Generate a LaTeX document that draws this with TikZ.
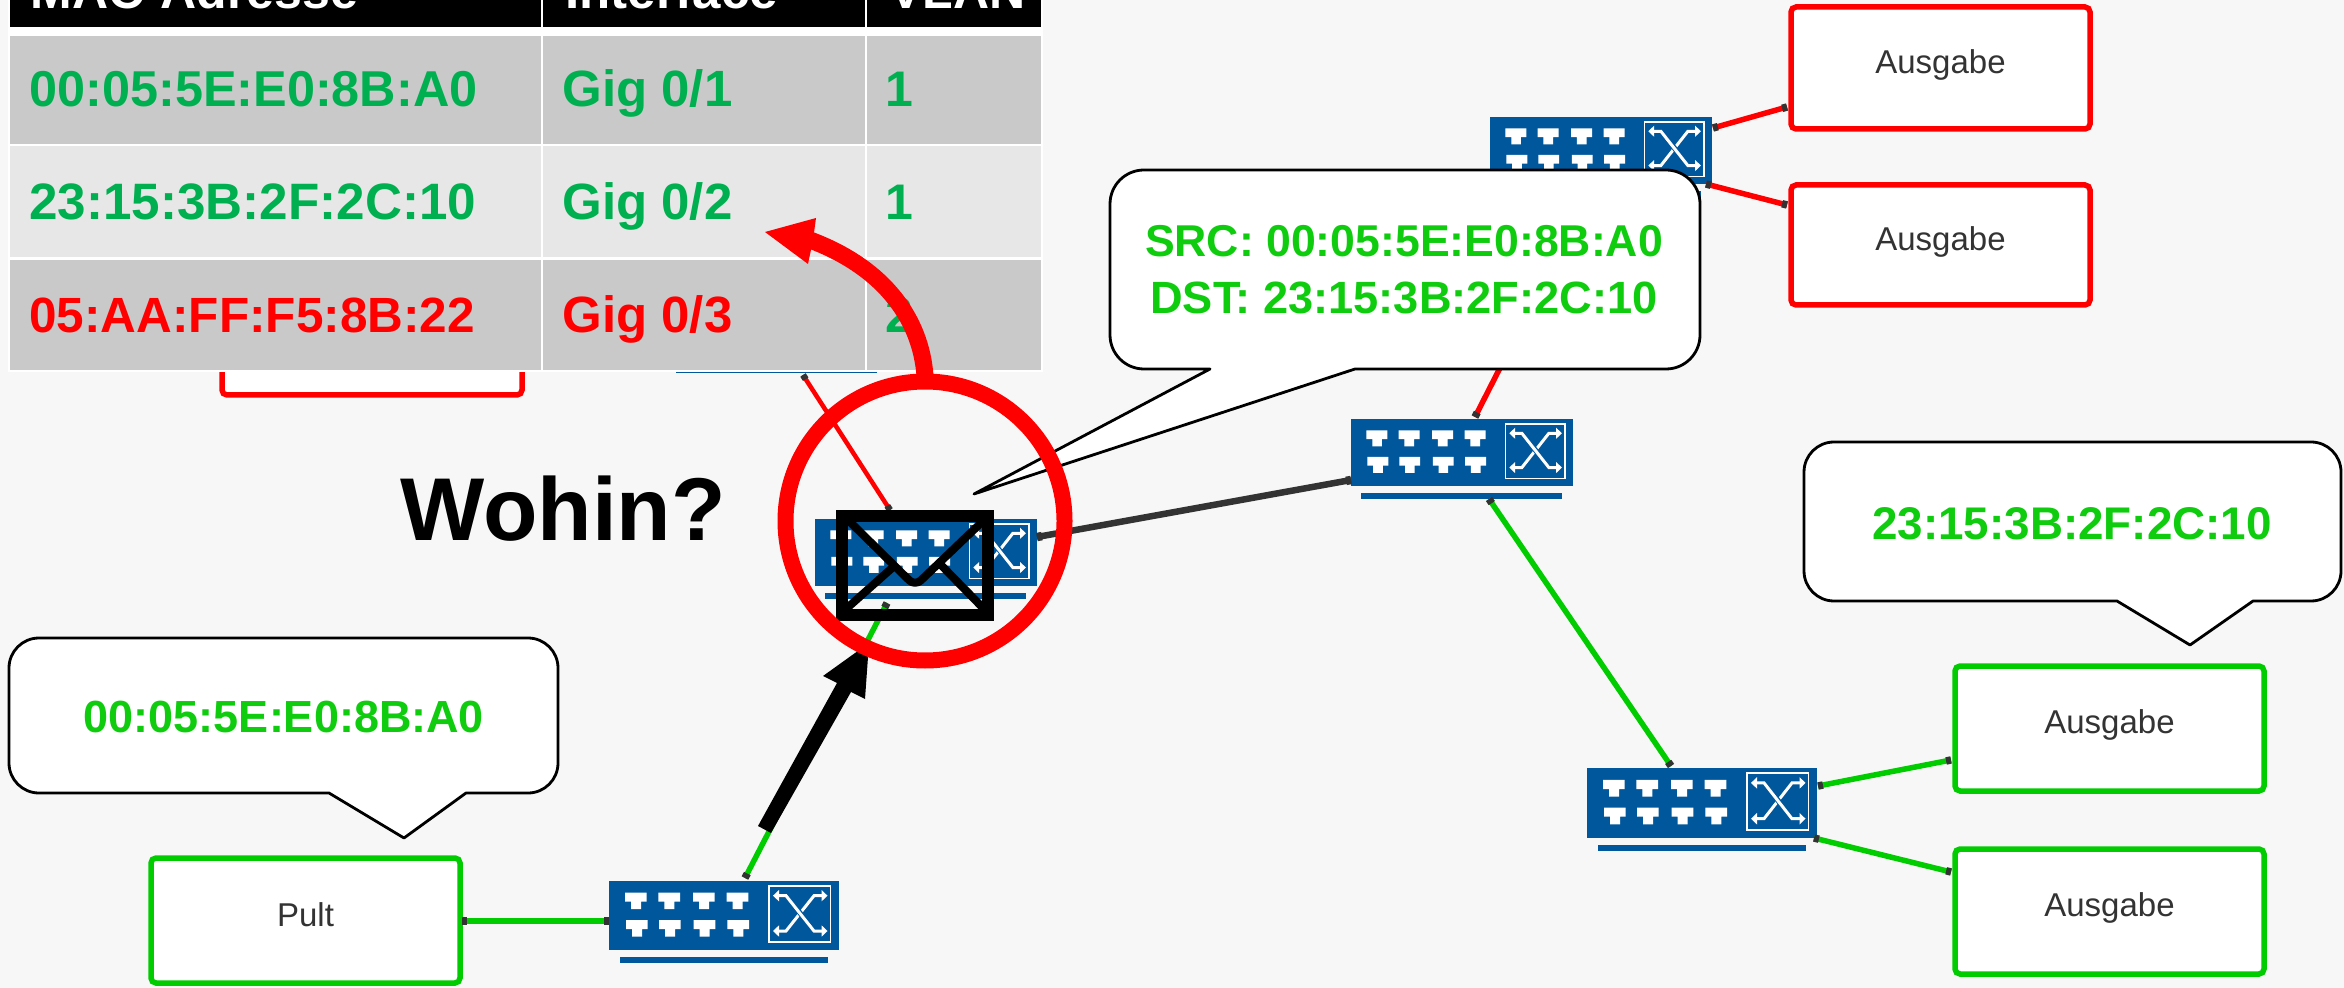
\documentclass[tikz,border=0pt]{standalone}
\usepackage{fontspec}
\setmainfont{Liberation Sans}
\usetikzlibrary{calc}
\definecolor{pagebg}{HTML}{F7F7F7}
\definecolor{swblue}{HTML}{00579C}
\definecolor{linegreen}{HTML}{00CC00}
\definecolor{textgreen}{HTML}{0FCC0F}
\definecolor{tabgreen}{HTML}{00B050}
\definecolor{rowdark}{HTML}{C9C9C9}
\definecolor{rowlight}{HTML}{E7E7E7}
\definecolor{tabdark}{HTML}{333333}
\tikzset{
  swbody/.style={fill=swblue,draw=none,inner sep=0pt,outer sep=0pt},
  devbox/.style={draw=#1,fill=white,line width=2.75pt,rounded corners=2.5pt,inner sep=0pt,outer sep=1.4pt,text=tabdark,font=\fontsize{16.5}{20}\selectfont},
  callout/.style={draw=black,fill=white,line width=1.4pt,line join=round},
  calltext/.style={inner sep=0pt,anchor=base,text=textgreen,font=\bfseries\fontsize{#1}{#1}\selectfont},
  celltext/.style={inner sep=0pt,anchor=base west,text=#1,font=\bfseries},
  conn/.style={line width=#1},
  tab/.style={draw=tabdark,line width=#1},
}
\newcommand{\fs}[1]{\fontsize{#1}{#1}\selectfont}
\newcommand{\switchunit}[8]{%
  \node[swbody,minimum width=#4*0.5pt,minimum height=#5*0.5pt] (#1) at ({#2+#4/2},{#3+#5/2}) {};
  \node[swbody,minimum width=#7*0.5pt,minimum height=3pt] (#1bar) at ({#6+#7/2},{#8+3}) {};
  \begin{scope}[shift={(#2,#3)},x=0.5pt*#4/230,y=-0.5pt*#5/69]
    \foreach \px in {16,49.3,84,117.7} {
      \fill[white] (\px,11.7) -- ++(21.7,0) -- ++(0,9) -- ++(-5.7,0) -- ++(0,7.5) -- ++(-10,0) -- ++(0,-7.5) -- ++(-6,0) -- cycle;}
    \foreach \px in {17,50,84.7,118.3} {
      \fill[white] (\px,39) -- ++(21.7,0) -- ++(0,9) -- ++(-5.7,0) -- ++(0,7.5) -- ++(-10,0) -- ++(0,-7.5) -- ++(-6,0) -- cycle;}
    \draw[white,line width=0.7pt] (160,5) rectangle (221.7,61);
    \draw[white,line width=1.5pt] (168,50) -- (177,50) -- (205,14.7) -- (214,14.7);
    \draw[swblue,line width=2.6pt] (184,23) -- (198,41);
    \draw[white,line width=1.5pt] (168,14.7) -- (177,14.7) -- (205,50) -- (214,50);
    \fill[white] (218.5,14.7) -- (212.5,9) -- (212.5,20.4) -- cycle;
    \fill[white] (218.5,50) -- (212.5,44.3) -- (212.5,55.7) -- cycle;
    \fill[white] (164,14.7) -- (170,9) -- (170,20.4) -- cycle;
    \fill[white] (164,50) -- (170,44.3) -- (170,55.7) -- cycle;
  \end{scope}}
\newcommand{\link}[4]{%
  \draw[conn=#2,#1] (#3) -- (#4);
  \draw[tab=#2+1pt] (#3) -- ($(#3)!2.5pt!(#4)$);
  \draw[tab=#2+1pt] (#4) -- ($(#4)!2.5pt!(#3)$);}
\newcommand{\boxnode}[8]{%
  \node[devbox=#2,minimum width={(#5-#3)*0.5pt},minimum height={(#6-#4)*0.5pt}] (#1) at ({(#3+#5)/2},{(#4+#6)/2}) {\raisebox{#8}[0pt][0pt]{#7}};}
\newcommand{\speech}[9]{% x0 y0 x1 y1 radius tailR tipx tipy tailL
  \draw[callout]
    ({#1+#5},#2) -- ({#3-#5},#2) arc[start angle=-90,end angle=0,radius=#5]
    -- (#3,{#4-#5}) arc[start angle=0,end angle=90,radius=#5]
    -- (#6,#4) -- (#7,#8) -- (#9,#4)
    -- ({#1+#5},#4) arc[start angle=90,end angle=180,radius=#5]
    -- (#1,{#2+#5}) arc[start angle=180,end angle=270,radius=#5] -- cycle;}
\begin{document}
\begin{tikzpicture}[x=0.5pt,y=-0.5pt]
\useasboundingbox (0,0) rectangle (2344,988);
\clip (0,0) rectangle (2344,988);
\fill[pagebg] (0,0) rectangle (2344,988);

% hidden elements behind the table
\boxnode{hiddenbox}{red}{222}{272}{522}{395}{}{0pt}
\switchunit{swhidden}{666}{293}{222}{67}{676}{201}{367}

% switches
\switchunit{swpult}{609}{881}{230}{69}{620}{208}{957}
\switchunit{swmid}{815}{519}{222}{67}{825}{201}{593}
\switchunit{swright}{1351}{419}{222}{67}{1361}{201}{493}
\switchunit{swtop}{1490}{117}{222}{67}{1500}{201}{191}
\switchunit{swlow}{1587}{768}{230}{70}{1598}{208}{845}

% end devices
\boxnode{pult}{linegreen}{151}{858}{460}{983}{Pult}{-3pt}
\boxnode{outa}{red}{1791}{7}{2090}{129}{Ausgabe}{-2.6pt}
\boxnode{outb}{red}{1791}{185}{2090}{305}{Ausgabe}{-2.6pt}
\boxnode{outc}{linegreen}{1955}{666}{2264}{791}{Ausgabe}{-2.6pt}
\boxnode{outd}{linegreen}{1955}{849}{2264}{974}{Ausgabe}{-2.6pt}

% connector ends
\coordinate (pultE) at (462,921);
\coordinate (swpultW) at (609,921);
\coordinate (swpultN) at (745,878);
\coordinate (swmidS) at (887,603);
\coordinate (swmidN) at (890,510);
\coordinate (swhiddenS) at (803,375);
\coordinate (swmidE) at (1037,537);
\coordinate (swrightW) at (1351,480);
\coordinate (swrightN) at (1475,417);
\coordinate (swtopS) at (1560,250);
\coordinate (swrightS) at (1489,499);
\coordinate (swlowN) at (1671,766);
\coordinate (swtopEa) at (1713,128);
\coordinate (outaW) at (1787,107);
\coordinate (swtopEb) at (1706,184);
\coordinate (outbW) at (1787,205);
\coordinate (swlowEa) at (1818,786);
\coordinate (outcW) at (1951,760);
\coordinate (swlowEb) at (1814,838);
\coordinate (outdW) at (1951,872);

\link{linegreen}{3pt}{pultE}{swpultW}
\link{linegreen}{2.75pt}{swpultN}{swmidS}
\link{red}{2.25pt}{swmidN}{swhiddenS}
\link{tabdark}{3.25pt}{swmidE}{swrightW}
\link{red}{2.75pt}{swrightN}{swtopS}
\link{linegreen}{2.75pt}{swrightS}{swlowN}
\link{red}{2.75pt}{swtopEa}{outaW}
\link{red}{2.75pt}{swtopEb}{outbW}
\link{linegreen}{2.75pt}{swlowEa}{outcW}
\link{linegreen}{2.75pt}{swlowEb}{outdW}

% table
\fill[white] (8,-5) rectangle (1043,372);
\fill[black] (10,-5) rectangle (540.5,27);
\fill[black] (543,-5) rectangle (864.5,27);
\fill[black] (867,-5) rectangle (1041,27);
\fill[rowdark] (10,36) rectangle (540.5,144);
\fill[rowdark] (543,36) rectangle (864.5,144);
\fill[rowdark] (867,36) rectangle (1041,144);
\fill[rowlight] (10,146) rectangle (540.5,257);
\fill[rowlight] (543,146) rectangle (864.5,257);
\fill[rowlight] (867,146) rectangle (1041,257);
\fill[rowdark] (10,260) rectangle (540.5,370);
\fill[rowdark] (543,260) rectangle (864.5,370);
\fill[rowdark] (867,260) rectangle (1041,370);

\node[celltext=white] (hmac) at (30,9) {\fs{25}MAC-Adresse};
\node[celltext=white] (hif) at (565,9) {\fs{25.5}Interface};
\node[celltext=white] (hvl) at (889,9) {\fs{25}VLAN};
\node[celltext=tabgreen] (m1) at (29,107) {\fs{25.2}00:05:5E:E0:8B:A0};
\node[celltext=tabgreen] (i1) at (562,107) {\fs{25.5}Gig 0/1};
\node[celltext=tabgreen] (v1) at (885,107) {\fs{25}1};
\node[celltext=tabgreen] (m2) at (29,220) {\fs{25.6}23:15:3B:2F:2C:10};
\node[celltext=tabgreen] (i2) at (562,220) {\fs{25.5}Gig 0/2};
\node[celltext=tabgreen] (v2) at (885,220) {\fs{25}1};
\node[celltext=red] (m3) at (29,333) {\fs{24.75}05:AA:FF:F5:8B:22};
\node[celltext=red] (i3) at (562,333) {\fs{25.5}Gig 0/3};
\node[celltext=tabgreen] (v3) at (885,333) {\fs{25}2};

% callouts
\speech{9}{638}{558}{793}{30}{466}{404}{838}{329}
\node[calltext=22.5] (cleft) at (284,732.5) {00:05:5E:E0:8B:A0};
\speech{1804}{442}{2341}{601}{30}{2253}{2190}{645}{2117}
\node[calltext=22.9] (cright) at (2072,539) {23:15:3B:2F:2C:10};
\speech{1110}{170}{1700}{369}{34}{1355}{974}{494}{1210}
\node[calltext=22.3] (csrc) at (1404,257) {SRC: 00:05:5E:E0:8B:A0};
\node[calltext=22.6] (cdst) at (1404,314) {DST: 23:15:3B:2F:2C:10};

\node[inner sep=0pt,anchor=base west,font=\bfseries\fontsize{44.6}{44.6}\selectfont] (wohin) at (400,540) {Wohin?};

% envelope
\draw[black,line width=6pt] (842,516) rectangle (988,615);
\draw[black,line width=4pt,line join=round,rounded corners=4pt] (848,520) -- (915,586) -- (984,520);
\draw[black,line width=4pt] (846,609) -- (892,568);
\draw[black,line width=4pt] (941,565) -- (984,609);

% black arrow
\fill[black] (758,826) -- (771,833) -- (851,692) -- (865,699) -- (869,643) -- (823,676) -- (837,683) -- cycle;

% red ring and curved arrow
\draw[red,line width=8pt] (925,521) circle [radius=139.5];
\draw[red,line width=8.5pt] (925,376) .. controls (921,320) and (885,268) .. (810,240);
\fill[red] (765,232) -- (816,218) -- (813,240) -- (808,264) -- cycle;
\end{tikzpicture}
\end{document}
